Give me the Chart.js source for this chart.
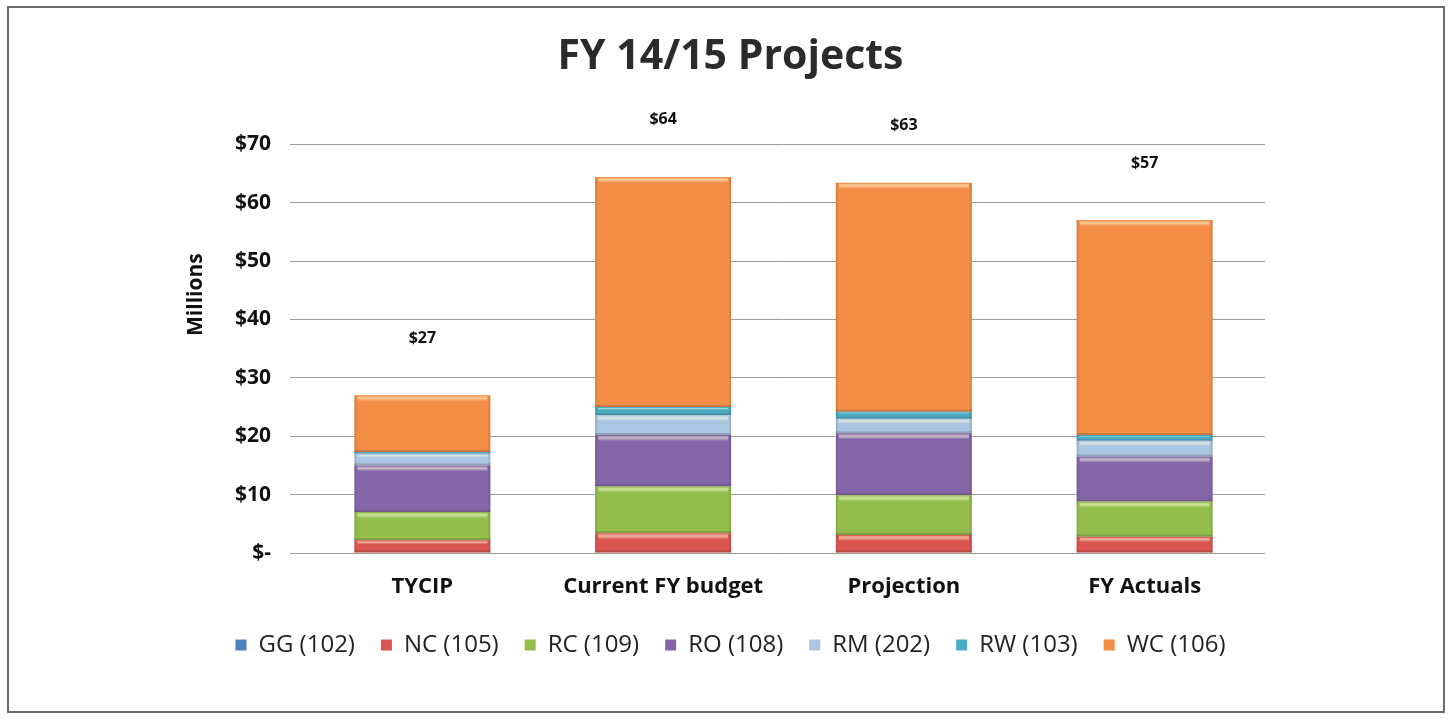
<!DOCTYPE html>
<html>
<head>
<meta charset="utf-8">
<title>FY 14/15 Projects</title>
<script src="https://cdn.jsdelivr.net/npm/chart.js@4.4.1/dist/chart.umd.min.js"></script>
<style>
  html, body { margin: 0; padding: 0; background: #ffffff; }
  #wrap { width: 1452px; height: 719px; position: relative; }
  canvas { display: block; }
</style>
</head>
<body>
<div id="wrap"><canvas id="chart" width="1452" height="719"></canvas></div>
<script>
// Categories along the x axis
const categories = ['TYCIP', 'Current FY budget', 'Projection', 'FY Actuals'];

// Fund series, values in $ millions (stacked bottom to top)
const gg102 = [0, 0, 0, 0];
const nc105 = [2.2, 3.4, 3.1, 2.8];
const rc109 = [4.8, 8.0, 6.8, 6.0];
const ro108 = [8.0, 8.8, 10.6, 7.7];
const rm202 = [2.0, 3.4, 2.5, 2.7];
const rw103 = [0.3, 1.4, 1.2, 1.0];
const wc106 = [9.7, 39.4, 39.2, 36.8];

// Y axis ticks (millions)
const yTicks = [0, 10, 20, 30, 40, 50, 60, 70];

const seriesNames = ['GG (102)', 'NC (105)', 'RC (109)', 'RO (108)', 'RM (202)', 'RW (103)', 'WC (106)'];
const seriesValues = [gg102, nc105, rc109, ro108, rm202, rw103, wc106];
const seriesColors = ['#4F81BD', '#DA5550', '#93BE4C', '#8465A8', '#ABC6E2', '#4BACC6', '#F48D45'];

const FONT = '"Open Sans", Lato, "DejaVu Sans", sans-serif';

// Light bevel on top of each stacked segment
const bevelPlugin = {
  id: 'bevel',
  afterDatasetsDraw(chart) {
    const ctx = chart.ctx;
    ctx.save();
    chart.data.datasets.forEach((ds, di) => {
      const meta = chart.getDatasetMeta(di);
      meta.data.forEach(bar => {
        const top = Math.min(bar.y, bar.base);
        const h = Math.abs(bar.base - bar.y);
        if (h < 1) return;
        const left = bar.x - bar.width / 2;
        const w = bar.width;
        const hl = Math.min(6, h / 3);
        const g = ctx.createLinearGradient(0, top, 0, top + hl);
        g.addColorStop(0, 'rgba(255,255,255,0.15)');
        g.addColorStop(0.5, 'rgba(255,255,210,0.55)');
        g.addColorStop(1, 'rgba(255,255,255,0)');
        ctx.fillStyle = g;
        ctx.fillRect(left + 3, top + 1, w - 6, hl);
        // darker bottom edge and sides
        ctx.fillStyle = 'rgba(60,40,40,0.22)';
        ctx.fillRect(left, top + h - Math.min(2, h / 4), w, Math.min(2, h / 4));
        ctx.fillStyle = 'rgba(60,40,40,0.12)';
        ctx.fillRect(left, top, 2, h);
        ctx.fillRect(left + w - 2, top, 2, h);
      });
    });
    ctx.restore();
  }
};

// Total labels above each stacked column, plus the rotated axis caption
const totalsPlugin = {
  id: 'totals',
  afterDatasetsDraw(chart) {
    const ctx = chart.ctx;
    const y = chart.scales.y;
    const meta = chart.getDatasetMeta(0);
    ctx.save();
    ctx.font = 'bold 16px ' + FONT;
    ctx.fillStyle = '#111';
    ctx.textAlign = 'center';
    ctx.textBaseline = 'middle';
    categories.forEach((c, i) => {
      const total = seriesValues.reduce((s, arr) => s + arr[i], 0);
      const px = meta.data[i].x;
      const py = y.getPixelForValue(total) - 57;
      ctx.fillText('$' + Math.round(total), px, py);
    });
    // "Millions" caption sits in the upper part of the value axis
    const area = chart.chartArea;
    ctx.translate(y.left, area.top + area.height * 0.368);
    ctx.rotate(-Math.PI / 2);
    ctx.font = 'bold 21px ' + FONT;
    ctx.fillText('Millions', 0, 0);
    ctx.restore();
  }
};

// Outer frame around the chart
const framePlugin = {
  id: 'frame',
  afterDraw(chart) {
    const ctx = chart.ctx;
    ctx.save();
    ctx.strokeStyle = '#6a6a6a';
    ctx.lineWidth = 2;
    ctx.strokeRect(8, 7, chart.width - 16, chart.height - 14);
    ctx.restore();
  }
};

new Chart(document.getElementById('chart'), {
  type: 'bar',
  data: {
    labels: categories,
    datasets: seriesNames.map((n, i) => ({
      label: n,
      data: seriesValues[i],
      backgroundColor: seriesColors[i],
      borderWidth: 0,
      barPercentage: 0.565,
      categoryPercentage: 1.0,
      stack: 'funds'
    }))
  },
  options: {
    responsive: false,
    animation: false,
    layout: { padding: { left: 196, right: 187, top: 10, bottom: 52 } },
    plugins: {
      title: {
        display: true,
        text: 'FY 14/15 Projects',
        color: '#2b2b2b',
        font: { family: FONT, size: 41, weight: 'bold' },
        padding: { top: 23, bottom: 62 }
      },
      legend: {
        position: 'bottom',
        labels: {
          boxWidth: 11,
          boxHeight: 11,
          padding: 26,
          color: '#222',
          font: { family: FONT, size: 24 }
        }
      },
      tooltip: { enabled: false }
    },
    scales: {
      x: {
        stacked: true,
        grid: { display: false, drawTicks: false },
        border: { display: false },
        ticks: { color: '#111', padding: 21, font: { family: FONT, size: 22, weight: 'bold' } },
        afterFit(scale) { scale.height = 54; }
      },
      y: {
        stacked: true,
        min: 0,
        max: 70,
        afterBuildTicks(scale) { scale.ticks = yTicks.map(v => ({ value: v })); },
        grid: { color: '#9c9c9c', lineWidth: 1, tickLength: 12, drawTicks: true },
        border: { display: false },
        ticks: {
          color: '#111',
          padding: 19,
          font: { family: FONT, size: 21, weight: 'bold' },
          callback: v => v === 0 ? '$-' : '$' + v
        },
        title: { display: false },
        afterFit(scale) { scale.width = 106; }
      }
    }
  },
  plugins: [bevelPlugin, totalsPlugin, framePlugin]
});
</script>
</body>
</html>
